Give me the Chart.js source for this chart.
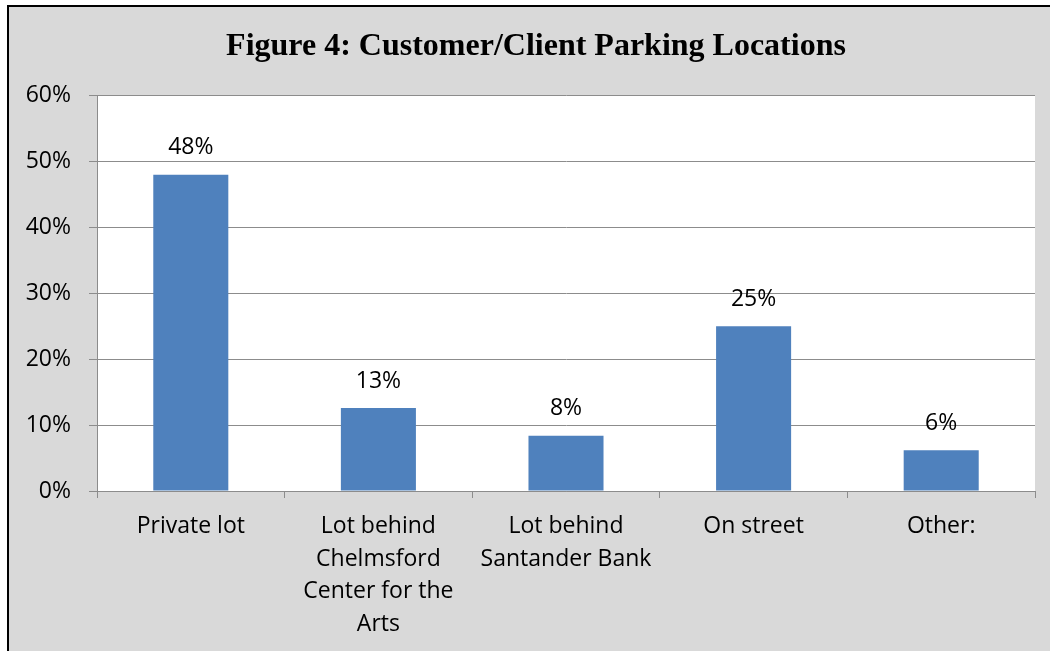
<!DOCTYPE html>
<html>
<head>
<meta charset="utf-8">
<script src="https://cdn.jsdelivr.net/npm/chart.js@4"></script>
<style>
  body { margin: 0; background: #fff; }
  #frame {
    position: absolute; left: 7px; top: 5px;
    width: 1041px; height: 644px;
    border-left: 2px solid #000; border-top: 2px solid #000;
    background: #d9d9d9;
  }
</style>
</head>
<body>
<div id="frame"><canvas id="parkingChart"></canvas></div>
<script>
// Figure 4 data
const categories = [
  ["Private lot"],
  ["Lot behind", "Chelmsford", "Center for the", "Arts"],
  ["Lot behind", "Santander Bank"],
  ["On street"],
  ["Other:"]
];
const shares = [48, 12.6, 8.4, 25, 6.2];
const yTicks = [0, 10, 20, 30, 40, 50, 60];

const gridGray = "#8c8c8c";
const labelFont = { family: "Open Sans", size: 23 };

// white plot area, and title centred a bit to the right like the original
const plotBackground = {
  id: "plotBackground",
  afterLayout(chart) {
    if (chart.titleBlock) chart.titleBlock.left += 28;
  },
  beforeDraw(chart) {
    const { ctx, chartArea } = chart;
    ctx.save();
    ctx.fillStyle = "#fff";
    ctx.fillRect(chartArea.left, chartArea.top, chartArea.width, chartArea.height);
    ctx.restore();
  }
};

// draw the % value above each bar
const barValueLabels = {
  id: "barValueLabels",
  afterDatasetsDraw(chart) {
    const ctx = chart.ctx;
    const meta = chart.getDatasetMeta(0);
    ctx.save();
    ctx.font = "23px 'Open Sans'";
    ctx.fillStyle = "#000";
    ctx.textAlign = "center";
    ctx.textBaseline = "middle";
    meta.data.forEach((bar, i) => {
      ctx.fillText(Math.round(shares[i]) + "%", bar.x, bar.y - 27);
    });
    ctx.restore();
  }
};

new Chart(document.getElementById("parkingChart").getContext("2d"), {
  type: "bar",
  data: {
    labels: categories,
    datasets: [{
      data: shares,
      backgroundColor: "#4f81bd",
      categoryPercentage: 0.8,
      barPercentage: 0.5,
    }],
  },
  options: {
    responsive: true,
    maintainAspectRatio: false,
    animation: false,
    layout: { padding: { left: 0, right: 15, top: 0, bottom: 0 } },
    plugins: {
      legend: { display: false },
      tooltip: { enabled: false },
      title: {
        display: true,
        text: "Figure 4: Customer/Client Parking Locations",
        color: "#000",
        font: { family: "Liberation Serif", size: 32, weight: "bold", lineHeight: 1.2 },
        padding: { top: 21, bottom: 29.2 },
      },
    },
    scales: {
      x: {
        afterFit: scale => { scale.height = 160; },
        grid: {
          offset: true,
          drawOnChartArea: false,
          color: gridGray,
          tickLength: 7,
        },
        border: { color: gridGray },
        ticks: { color: "#000", font: { ...labelFont, lineHeight: 1.42 }, padding: 12, maxRotation: 0 },
      },
      y: {
        min: 0,
        max: 60,
        afterFit: scale => { scale.width = 88; },
        afterBuildTicks: scale => { scale.ticks = yTicks.map(v => ({ value: v })); },
        grid: { color: gridGray, tickLength: 8 },
        border: { color: gridGray },
        ticks: {
          color: "#000",
          font: labelFont,
          padding: 18,
          callback: v => v + "%",
        },
      },
    },
  },
  plugins: [plotBackground, barValueLabels],
});
</script>
</body>
</html>
